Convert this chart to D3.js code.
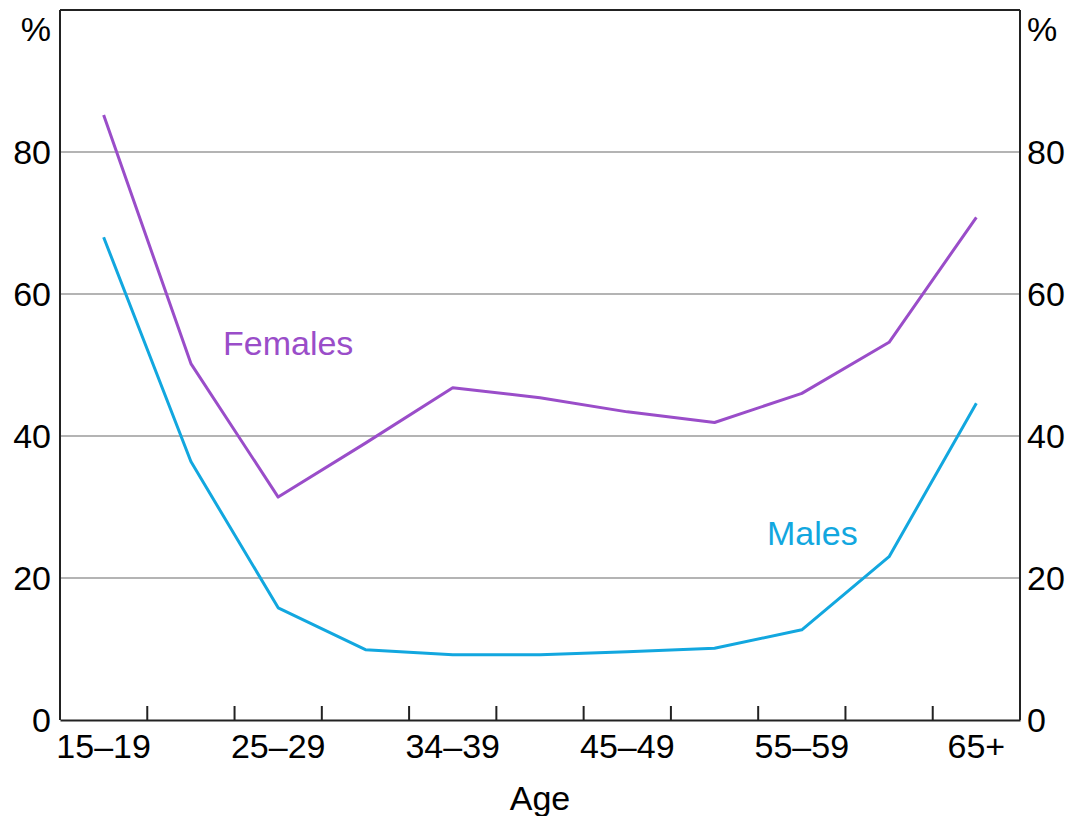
<!DOCTYPE html>
<html>
<head>
<meta charset="utf-8">
<script src="https://cdn.jsdelivr.net/npm/d3@7"></script>
<style>
  html, body { margin: 0; padding: 0; background: #fff; }
  svg { display: block; font-family: Arial, "Liberation Sans", sans-serif; }
</style>
</head>
<body>
<svg id="chart" width="1066" height="816"></svg>
<script>
const categories = ["15–19","20–24","25–29","30–34","34–39","40–44","45–49","50–54","55–59","60–64","65+"];
const labelledCategories = ["15–19","25–29","34–39","45–49","55–59","65+"];
const females = [85.2, 50.2, 31.4, 39.0, 46.8, 45.4, 43.4, 41.9, 46.0, 53.2, 70.8];
const males   = [68.0, 36.4, 15.8, 9.9, 9.2, 9.2, 9.6, 10.1, 12.7, 23.0, 44.6];
const yTicks = [0, 20, 40, 60, 80];

const svg = d3.select("#chart");
const L = 60, R = 1020, T = 10, B = 720;

const x = d3.scaleBand().domain(categories).range([L, R]).paddingInner(0).paddingOuter(0);
const y = d3.scaleLinear().domain([0, 100]).range([B, T]);
const xc = d => x(d) + x.bandwidth() / 2;

// gridlines
svg.append("g").selectAll("line").data(yTicks.filter(d => d > 0)).join("line")
  .attr("x1", L).attr("x2", R)
  .attr("y1", d => y(d)).attr("y2", d => y(d))
  .attr("stroke", "#b4b4b4").attr("stroke-width", 2);

// frame
svg.append("line").attr("x1", L).attr("x2", R).attr("y1", y(100)).attr("y2", y(100))
  .attr("stroke", "#222").attr("stroke-width", 2);
svg.append("line").attr("x1", L).attr("x2", L).attr("y1", y(100)).attr("y2", B)
  .attr("stroke", "#222").attr("stroke-width", 2);
svg.append("line").attr("x1", R).attr("x2", R).attr("y1", y(100)).attr("y2", B)
  .attr("stroke", "#222").attr("stroke-width", 2);

// x axis
const xAxis = d3.axisBottom(x)
  .tickSize(0)
  .tickFormat(d => labelledCategories.includes(d) ? d : "");
const gx = svg.append("g").attr("transform", `translate(0,${B})`).call(xAxis);
gx.select(".domain").attr("stroke", "#222").attr("stroke-width", 2);
gx.selectAll(".tick text")
  .attr("font-size", 34).attr("fill", "#000").attr("font-family", "Arial, 'Liberation Sans', sans-serif")
  .attr("dy", 0).attr("y", 38);

// inward tick marks at category boundaries
svg.append("g").selectAll("line").data(categories.slice(1)).join("line")
  .attr("x1", d => x(d)).attr("x2", d => x(d))
  .attr("y1", B).attr("y2", B - 14)
  .attr("stroke", "#222").attr("stroke-width", 2);

// y labels
const yl = svg.append("g");
yl.selectAll("text.l").data(yTicks).join("text").attr("class", "l")
  .attr("x", L - 9).attr("y", d => y(d)).attr("dy", "0.36em")
  .attr("text-anchor", "end").attr("font-size", 34).attr("fill", "#000")
  .text(d => d);
yl.selectAll("text.r").data(yTicks).join("text").attr("class", "r")
  .attr("x", R + 7).attr("y", d => y(d)).attr("dy", "0.36em")
  .attr("text-anchor", "start").attr("font-size", 34).attr("fill", "#000")
  .text(d => d);
svg.append("text").attr("x", L - 9).attr("y", 41).attr("text-anchor", "end")
  .attr("font-size", 34).text("%");
svg.append("text").attr("x", R + 7).attr("y", 41).attr("text-anchor", "start")
  .attr("font-size", 34).text("%");

// axis title
svg.append("text").attr("x", (L + R) / 2).attr("y", 810).attr("text-anchor", "middle")
  .attr("font-size", 34).text("Age");

// lines
const line = d3.line().x((d, i) => xc(categories[i])).y(d => y(d));
svg.append("path").datum(females).attr("d", line)
  .attr("fill", "none").attr("stroke", "#9a4dc9").attr("stroke-width", 3).attr("stroke-linejoin", "round");
svg.append("path").datum(males).attr("d", line)
  .attr("fill", "none").attr("stroke", "#12a7df").attr("stroke-width", 3).attr("stroke-linejoin", "round");

// series labels
svg.append("text").attr("x", 223).attr("y", 355).attr("font-size", 34)
  .attr("fill", "#9a4dc9").text("Females");
svg.append("text").attr("x", 767).attr("y", 545).attr("font-size", 34)
  .attr("fill", "#12a7df").text("Males");
</script>
</body>
</html>
